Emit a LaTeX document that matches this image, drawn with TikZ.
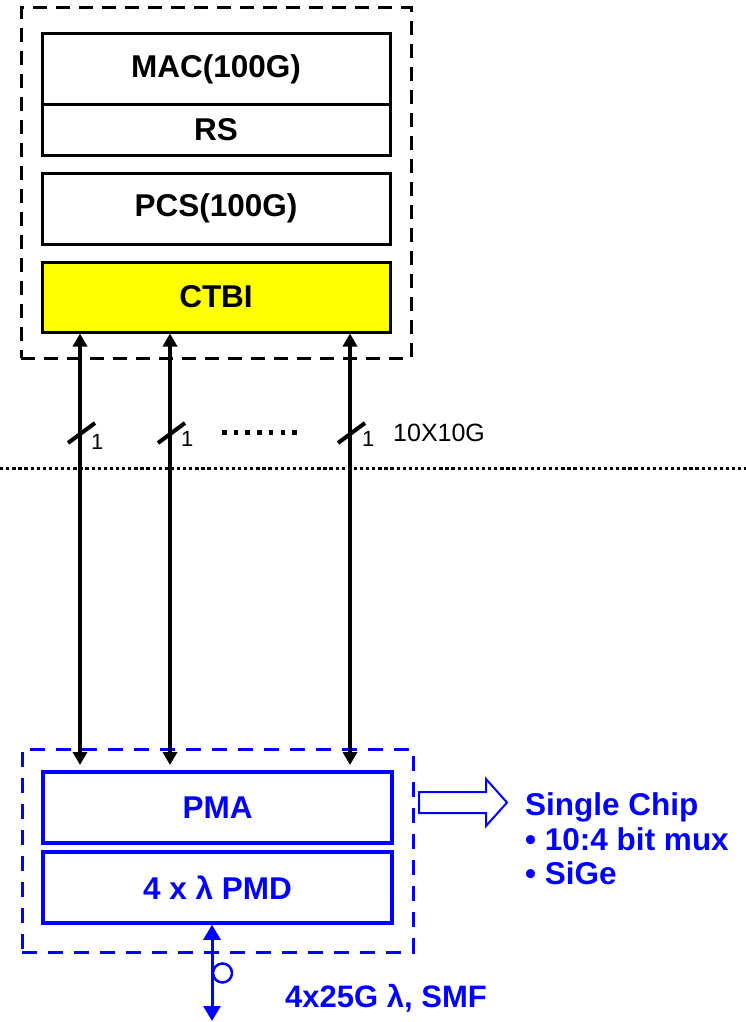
\documentclass[tikz,border=0pt]{standalone}
\usepackage{fontspec}
\setmainfont{Liberation Sans}
\usetikzlibrary{arrows.meta,calc}
\definecolor{pblue}{RGB}{0,0,255}
\definecolor{pyellow}{RGB}{255,255,0}
\tikzset{
  layer/.style={draw=black, line width=3pt, rectangle, inner sep=0pt,
    minimum width=348pt, font=\fontsize{31.5}{36}\selectfont\bfseries},
  blayer/.style={draw=pblue, text=pblue, line width=3.5pt, rectangle, inner sep=0pt,
    minimum width=349pt, minimum height=71pt, font=\fontsize{31.5}{36}\selectfont\bfseries},
  topbox/.style={draw=black, line width=3pt, dash pattern=on 14pt off 9pt, rectangle, inner sep=0pt},
  botbox/.style={draw=pblue, line width=3pt, dash pattern=on 15pt off 11pt, rectangle, inner sep=0pt},
  duplex/.style={line width=3.5pt, {Triangle[width=14pt,length=13pt]}-{Triangle[width=14pt,length=13pt]}},
  bduplex/.style={draw=pblue, line width=3pt, {Triangle[width=17pt,length=15pt]}-{Triangle[width=17pt,length=15pt]}},
  slash/.style={line width=4pt},
  onelabel/.style={anchor=base west, inner sep=0pt, font=\fontsize{22}{26}\selectfont},
  bluetext/.style={anchor=base west, inner sep=0pt, text=pblue, font=\fontsize{31.5}{36}\selectfont\bfseries}
}
\begin{document}
\begin{tikzpicture}[x=1pt,y=-1pt]
\useasboundingbox (0,0) rectangle (746,1022);

% top stack
\node[topbox, minimum width=390pt, minimum height=350pt] (top) at (216,183) {};
\node[layer, minimum height=71pt] (mac) at (216,69.5) {MAC(100G)};
\node[layer, minimum height=50pt] (rs) at (216,130) {RS};
\node[layer, minimum height=71pt] (pcs) at (216,208.5) {PCS(100G)};
\node[layer, minimum height=70pt, fill=pyellow] (ctbi) at (216,297) {CTBI};

% bottom stack
\node[botbox, minimum width=391pt, minimum height=203pt] (bot) at (217.5,850.5) {};
\node[blayer] (pma) at (217.5,807.5) {PMA};
\node[blayer] (pmd) at (217.5,887.5) {4 x λ PMD};

% lanes
\coordinate (p1) at (80,765);
\coordinate (p2) at (170,765);
\coordinate (p3) at (350,765);
\draw[duplex] (p1 |- ctbi.south) -- (p1);
\draw[duplex] (p2 |- ctbi.south) -- (p2);
\draw[duplex] (p3 |- ctbi.south) -- (p3);

\draw[slash] (80,433) ++(-12,10) -- ++(27,-20);
\draw[slash] (170,433) ++(-12,10) -- ++(27,-20);
\draw[slash] (350,433) ++(-12,10) -- ++(27,-20);
\node[onelabel] (l1) at (91,449) {1};
\node[onelabel] (l2) at (181,446) {1};
\node[onelabel] (l3) at (362,446) {1};
\draw[line width=5pt, dash pattern=on 4.5pt off 7.2pt] (222,432) -- (298,432);
\node[anchor=base west, inner sep=0pt, font=\fontsize{25}{30}\selectfont] (rate) at (393,441) {10X10G};

% boundary
\draw[line width=3pt, dash pattern=on 3.3pt off 2.8pt] (0,468) -- (746,468);

% hollow arrow
\draw[pblue, line width=2pt] (419,792) -- (486,792) -- (486,779) -- (507,802.5)
  -- (486,826) -- (486,813) -- (419,813) -- cycle;
\node[bluetext] (sc1) at (525,815) {Single Chip};
\node[bluetext] (sc2) at (525,850) {• 10:4 bit mux};
\node[bluetext] (sc3) at (525,884) {• SiGe};

% fiber
\coordinate (f) at (212,1021);
\draw[bduplex] (f |- pmd.south) -- (f);
\draw[pblue, line width=2.5pt] (222.5,973) circle[radius=9.5pt];
\node[bluetext, font=\fontsize{31}{35}\selectfont\bfseries] (smf) at (285,1007) {4x25G λ, SMF};
\end{tikzpicture}
\end{document}
